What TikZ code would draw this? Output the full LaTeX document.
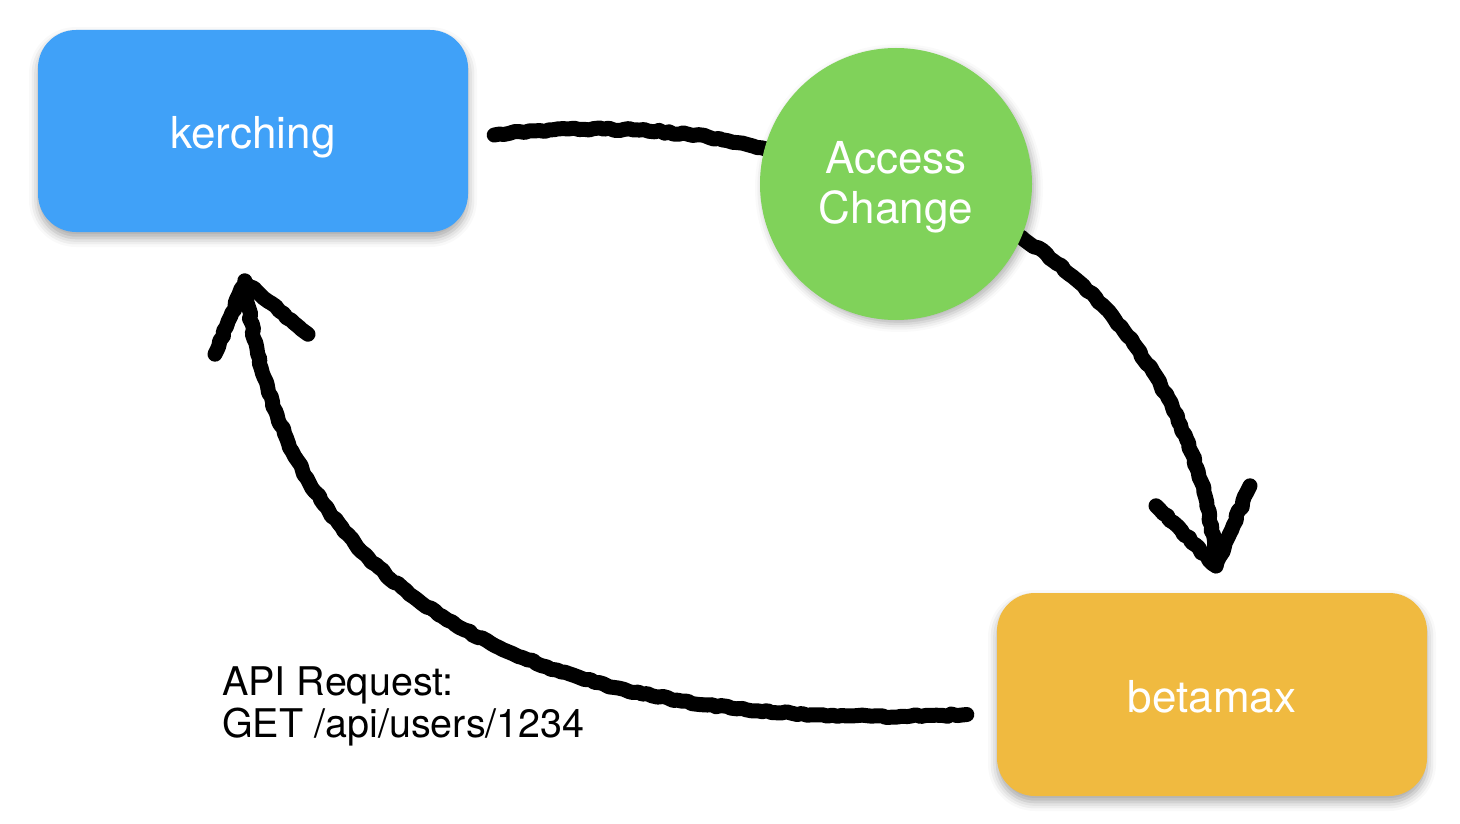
\documentclass[tikz,border=0pt]{standalone}
\usepackage{fontspec}
\setmainfont{TeX Gyre Heros}
\usetikzlibrary{calc,decorations.pathmorphing,shadows.blur}
\definecolor{kblue}{HTML}{40A1F8}
\definecolor{agreen}{HTML}{80D25A}
\definecolor{byellow}{HTML}{F0BA40}
\tikzset{
  box/.style={rectangle, rounded corners=38pt, text=white, font=\fontsize{44}{50}\selectfont,
    text height=36pt, text depth=0pt,
    blur shadow={shadow xshift=0pt, shadow yshift=-6pt, shadow blur radius=9pt, shadow opacity=35}},
  bubble/.style={circle, inner sep=0pt,
    blur shadow={shadow xshift=3pt, shadow yshift=-4pt, shadow blur radius=8pt, shadow opacity=30}},
  bubbletext/.style={text=white, align=center, font=\fontsize{44}{50}\selectfont, inner sep=0pt},
  chalk/.style={line width=15pt, line cap=round, line join=round, draw=black, decorate,
    decoration={random steps, segment length=5pt, amplitude=1.2pt}},
  chalkedge/.style={line width=3pt, line cap=round, line join=round, draw=black, decorate,
    decoration={random steps, segment length=5pt, amplitude=5.5pt}},
  chalkedgeb/.style={line width=2pt, line cap=round, line join=round, draw=black, decorate,
    decoration={random steps, segment length=4pt, amplitude=6pt}},
  label/.style={anchor=north west, align=left, font=\fontsize{39.5}{42}\selectfont, inner sep=0pt}
}
\begin{document}
\pgfmathsetseed{7}
\begin{tikzpicture}[x=1pt,y=-1pt]
\useasboundingbox (0,0) rectangle (1460,824);
% node places
\path (253,131) node[minimum width=430pt, minimum height=202pt] (k) {};
\path (896,184) node[circle, minimum size=272pt] (a) {};
\path (1212,694.5) node[minimum width=430pt, minimum height=203pt] (b) {};
% connector end points
\coordinate (s1) at ([xshift=26pt,yshift=-4pt]k.east);
\coordinate (e1) at ([xshift=4pt,yshift=-1pt]a.165);
\coordinate (s2) at (a.-23);
\coordinate (t2) at ([xshift=4pt,yshift=27pt]b.north);
\coordinate (s3) at ([xshift=-30pt,yshift=-20pt]b.west);
\coordinate (t3) at ([xshift=-8pt,yshift=-50pt]k.south);
% strokes
\foreach \st in {chalk, chalkedge, chalkedgeb} {
  \draw[\st] (s1) .. controls (585,124) and (690,128) .. (e1);
  \draw[\st] (s2) .. controls (1120,300) and (1205,420) .. (t2);
  \draw[\st] ($(t2)+(-60,-60)$) -- (t2) -- ($(t2)+(34,-80)$);
  \draw[\st] (s3) .. controls (600,730) and (288,645) .. (t3);
  \draw[\st] ($(t3)+(-30,72)$) -- (t3) -- ($(t3)+(63,52)$);
}
% visible nodes
\node[box, fill=kblue, minimum width=430pt, minimum height=202pt] (kv) at (k) {kerching};
\node[bubble, fill=agreen, minimum size=272pt] (av) at (a) {};
\node[bubbletext] (at) at ([yshift=-3pt]a) {Access\\Change};
\node[box, fill=byellow, minimum width=430pt, minimum height=203pt] (bv) at (b) {betamax};
\node[label] (lbl) at (222,666) {API Request:\\GET /api/users/1234};
\end{tikzpicture}
\end{document}
